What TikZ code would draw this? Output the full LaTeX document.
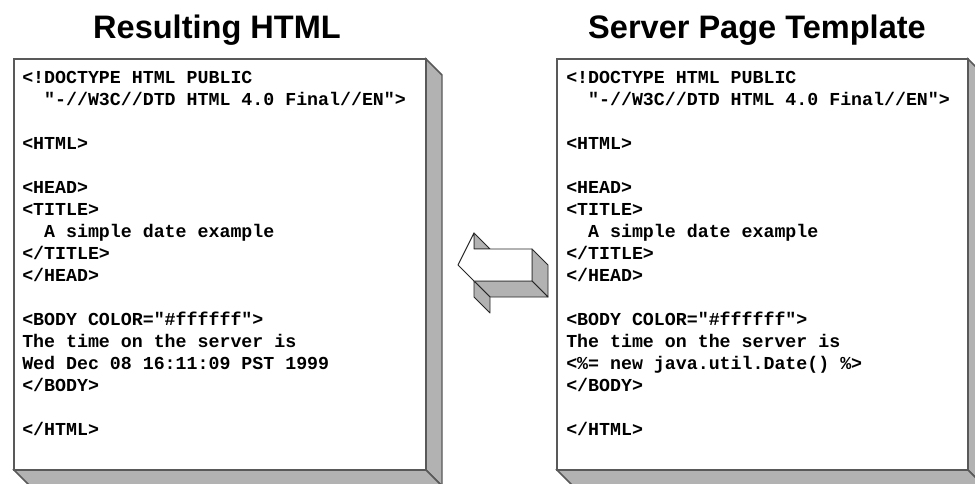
\documentclass[tikz,border=0pt]{standalone}
\usepackage{fontspec}
\setmainfont{Liberation Sans}
\setmonofont{Liberation Mono}
\usetikzlibrary{positioning}

% leading blanks that survive a line break
\newcommand\codeind{\hspace*{1.2em}}

% front face, right face and bottom face of a page slab
\newcommand\pageslab[4]{%
  \filldraw[sideface] (#3,#2) -- ++(16,16) -- (#3+16,#4+16) -- (#3,#4) -- cycle;
  \filldraw[sideface] (#1,#4) -- (#3,#4) -- (#3+16,#4+16) -- (#1+16,#4+16) -- cycle;
  \filldraw[frontface] (#1,#2) rectangle (#3,#4);
}

\begin{document}
\begin{tikzpicture}[
  x=0.75pt, y=-0.75pt,
  frontface/.style={draw=black!65, fill=white, line width=1.1pt},
  sideface/.style={draw=black!65, fill=black!30, line width=1.1pt},
  arrowface/.style={draw=black!85, fill=white, line width=0.7pt, line join=round},
  arrowside/.style={arrowface, fill=black!30},
  title/.style={anchor=base, inner sep=0pt, font=\bfseries\fontsize{24.4pt}{28pt}\selectfont},
  code/.style={anchor=north west, inner sep=0pt, align=left,
    font=\ttfamily\bfseries\fontsize{13.7pt}{16.5pt}\selectfont},
]
\useasboundingbox (0,0) rectangle (975,483);
\clip (0,0) rectangle (975,483);
\fill[white] (0,0) rectangle (975,483);

% the two pages
\pageslab{14}{59}{426}{470}
\pageslab{557}{59}{968}{470}

\node[title] (htmltitle) at (217,38) {Resulting HTML};
\node[title] (jsptitle) at (757,38) {Server Page Template};

\node[code] (htmlcode) at (22,71) {<!DOCTYPE HTML PUBLIC\\
\codeind"-//W3C//DTD HTML 4.0 Final//EN">\\
\mbox{}\\
<HTML>\\
\mbox{}\\
<HEAD>\\
<TITLE>\\
\codeind A simple date example\\
</TITLE>\\
</HEAD>\\
\mbox{}\\
<BODY COLOR="\#ffffff">\\
The time on the server is\\
Wed Dec 08 16:11:09 PST 1999\\
</BODY>\\
\mbox{}\\
</HTML>};

\node[code] (jspcode) at (566,71) {<!DOCTYPE HTML PUBLIC\\
\codeind"-//W3C//DTD HTML 4.0 Final//EN">\\
\mbox{}\\
<HTML>\\
\mbox{}\\
<HEAD>\\
<TITLE>\\
\codeind A simple date example\\
</TITLE>\\
</HEAD>\\
\mbox{}\\
<BODY COLOR="\#ffffff">\\
The time on the server is\\
<\%= new java.util.Date() \%>\\
</BODY>\\
\mbox{}\\
</HTML>};

% block arrow pointing back to the left page
\filldraw[arrowside] (474,233) -- (490,249) -- (474,249) -- cycle;
\filldraw[arrowside] (532,249) -- (548,265) -- (548,297) -- (532,281) -- cycle;
\filldraw[arrowside] (474,281) -- (532,281) -- (548,297) -- (490,297) -- cycle;
\filldraw[arrowside] (474,281) -- (490,297) -- (490,313) -- (474,297) -- cycle;
\filldraw[arrowface] (458,265) -- (474,233) -- (474,249) -- (532,249)
  -- (532,281) -- (474,281) -- cycle;
\end{tikzpicture}
\end{document}
